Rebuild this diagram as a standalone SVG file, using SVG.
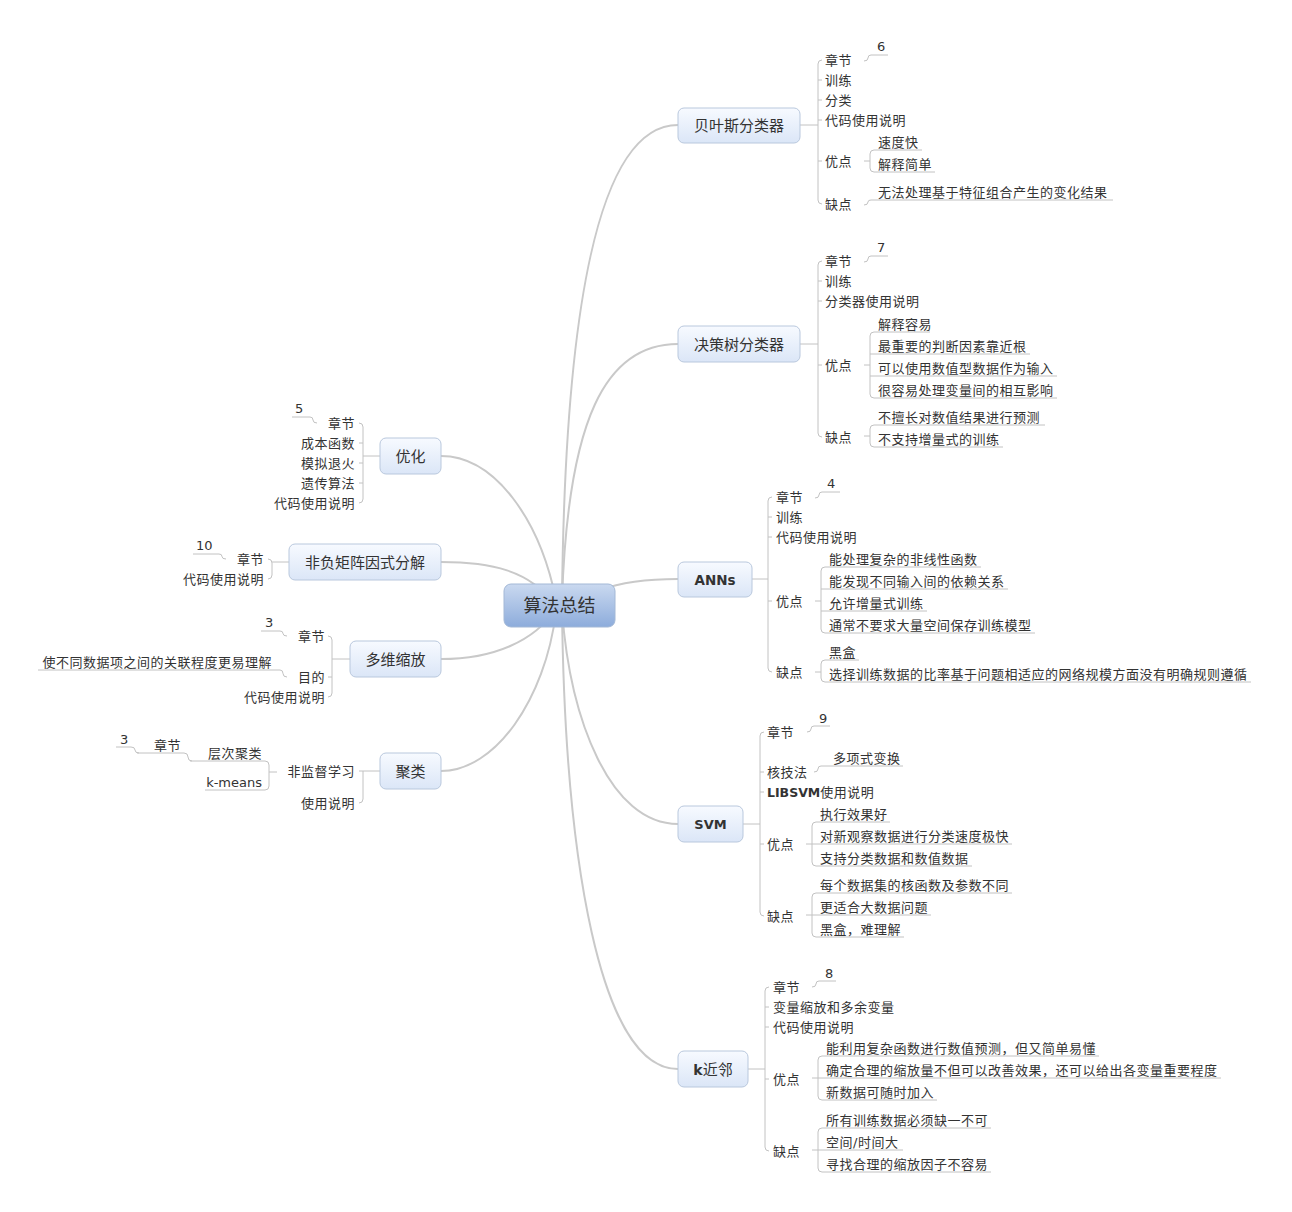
<svg xmlns="http://www.w3.org/2000/svg" width="1292" height="1212" viewBox="0 0 1292 1212">
<defs>
<linearGradient id="ng" x1="0" y1="0" x2="0" y2="1"><stop offset="0" stop-color="#f7faff"/><stop offset="1" stop-color="#dbe6f7"/></linearGradient>
<linearGradient id="cg" x1="0" y1="0" x2="0" y2="1"><stop offset="0" stop-color="#cad9f0"/><stop offset="1" stop-color="#8dacdb"/></linearGradient>
<style>
.nd{fill:url(#ng);stroke:#b9c8dd;stroke-width:1}
.ct{fill:url(#cg);stroke:#a3b8d6;stroke-width:1}
.mt{font-family:"DejaVu Sans","Noto Sans CJK SC",sans-serif;font-size:15px;fill:#333;text-anchor:middle}
.bt{font-family:"DejaVu Sans","Noto Sans CJK SC",sans-serif;font-size:13.5px;font-weight:bold;fill:#333;text-anchor:middle}
.t{font-family:"DejaVu Sans","Noto Sans CJK SC",sans-serif;font-size:13px;letter-spacing:0.5px;fill:#333}
.n{font-family:"DejaVu Sans",sans-serif;font-size:13px;fill:#333}
.e{text-anchor:end}
.mc{fill:none;stroke:#c9c9c9;stroke-width:2}
.sc{fill:none;stroke:#c2c2c2;stroke-width:1}
</style>
</defs>
<rect width="1292" height="1212" fill="#ffffff"/>
<g id="connectors">
<path class="mc" d="M678 125 C600 125 565 300 562 600"/>
<path class="mc" d="M678 344 C605 344 568 420 562 600"/>
<path class="mc" d="M678 579 Q630 579 600 590"/>
<path class="mc" d="M678 824 C610 824 570 720 562 610"/>
<path class="mc" d="M678 1069 C600 1069 565 860 562 610"/>
<path class="mc" d="M441 456 C495 456 540 520 556 600"/>
<path class="mc" d="M441 562 C490 562 530 570 555 605"/>
<path class="mc" d="M441 659 C495 659 535 640 555 610"/>
<path class="mc" d="M441 771 C495 771 545 700 556 612"/>
<!-- Bayes -->
<path class="sc" d="M800 125 H818 M822 60 Q818 60 818 64 V200 Q818 204 822 204 M818 80 H822 M818 100 H822 M818 120 H822 M818 161 H822"/>
<path class="sc" d="M864 61 Q868 61 868 58 Q868 55 871 55 H888"/>
<path class="sc" d="M864 161 H870 M922 150 H874 Q870 150 870 154 V168 Q870 172 874 172 H935"/>
<path class="sc" d="M864 205 Q868 205 868 202 Q868 200 871 200 H1113"/>
<!-- Decision tree -->
<path class="sc" d="M800 344 H818 M822 261 Q818 261 818 265 V433 Q818 437 822 437 M818 281 H822 M818 301 H822 M818 365 H822"/>
<path class="sc" d="M864 262 Q868 262 868 259 Q868 256 871 256 H888"/>
<path class="sc" d="M864 365 H870 M930 332 H874 Q870 332 870 336 V394 Q870 398 874 398 H1057 M870 354 H1030 M870 376 H1057"/>
<path class="sc" d="M864 436 H870 M1045 425 H874 Q870 425 870 429 V443 Q870 447 874 447 H1003"/>
<!-- ANNs -->
<path class="sc" d="M752 579 H768 M772 497 Q768 497 768 501 V668 Q768 672 772 672 M768 517 H772 M768 537 H772 M768 601 H772"/>
<path class="sc" d="M815 498 Q819 498 819 495 Q819 492 822 492 H840"/>
<path class="sc" d="M815 601 H821 M981 567 H825 Q821 567 821 571 V629 Q821 633 825 633 H1035 M821 589 H1008 M821 611 H927"/>
<path class="sc" d="M815 672 H821 M859 660 H825 Q821 660 821 664 V678 Q821 682 825 682 H1251"/>
<!-- SVM -->
<path class="sc" d="M743 824 H760 M764 732 Q760 732 760 736 V912 Q760 916 764 916 M760 772 H764 M760 792 H764 M760 844 H764"/>
<path class="sc" d="M807 732 Q811 732 811 729 Q811 726 814 726 H830"/>
<path class="sc" d="M814 772 Q818 772 818 769 Q818 766 821 766 H903"/>
<path class="sc" d="M806 844 H812 M890 822 H816 Q812 822 812 826 V862 Q812 866 816 866 H972 M812 844 H1012"/>
<path class="sc" d="M806 915 H812 M1012 893 H816 Q812 893 812 897 V933 Q812 937 816 937 H904 M812 915 H931"/>
<!-- kNN -->
<path class="sc" d="M748 1069 H765 M769 987 Q765 987 765 991 V1147 Q765 1151 769 1151 M765 1007 H769 M765 1027 H769 M765 1079 H769"/>
<path class="sc" d="M812 987 Q816 987 816 984 Q816 981 819 981 H836"/>
<path class="sc" d="M812 1078 H818 M1099 1056 H822 Q818 1056 818 1060 V1096 Q818 1100 822 1100 H937 M818 1078 H1221"/>
<path class="sc" d="M812 1150 H818 M991 1128 H822 Q818 1128 818 1132 V1168 Q818 1172 822 1172 H991 M818 1150 H903"/>
<!-- 优化 -->
<path class="sc" d="M380 456 H363 M359 423 Q363 423 363 427 V499 Q363 503 359 503 M363 443 H359 M363 463 H359 M363 483 H359"/>
<path class="sc" d="M317 423 Q313 423 313 420 Q313 417 310 417 H292"/>
<!-- 非负矩阵因式分解 -->
<path class="sc" d="M289 562 H272 M268 559 Q272 559 272 563 V575 Q272 579 268 579"/>
<path class="sc" d="M226 559 Q222 559 222 556.5 Q222 554 219 554 H193"/>
<!-- 多维缩放 -->
<path class="sc" d="M350 659 H332 M328 636 Q332 636 332 640 V693 Q332 697 328 697 M332 677 H328"/>
<path class="sc" d="M287 636 Q283 636 283 633.5 Q283 631 280 631 H261"/>
<path class="sc" d="M287 677 Q283 677 283 673.5 Q283 670 280 670 H38"/>
<!-- 聚类 -->
<path class="sc" d="M380 771 H359 M363 771 V799 Q363 803 359 803"/>
<path class="sc" d="M277 772 H269 M190 761 H265 Q269 761 269 765 V786 Q269 790 265 790 H205"/>
<path class="sc" d="M192 761 Q188 761 188 757 Q188 753 184 753 H137"/>
<path class="sc" d="M139 753 Q135 753 135 750 Q135 747 131 747 H116"/>
</g>
<g id="root">
<rect class="ct" x="504" y="584" width="111" height="43" rx="7"/>
<text class="mt" x="559.5" y="612" style="font-size:18px">算法总结</text>
</g>
<g id="bayes">
<rect class="nd" x="678" y="108" width="122" height="35" rx="6"/>
<text class="mt" x="739" y="131">贝叶斯分类器</text>
<text class="t" x="825" y="65">章节</text>
<text class="t" x="825" y="85">训练</text>
<text class="t" x="825" y="105">分类</text>
<text class="t" x="825" y="125">代码使用说明</text>
<text class="t" x="825" y="166">优点</text>
<text class="t" x="825" y="209">缺点</text>
<text class="n" x="877" y="51">6</text>
<text class="t" x="878" y="147">速度快</text>
<text class="t" x="878" y="169">解释简单</text>
<text class="t" x="878" y="197">无法处理基于特征组合产生的变化结果</text>
</g>
<g id="decision-tree">
<rect class="nd" x="678" y="326" width="122" height="36" rx="6"/>
<text class="mt" x="739" y="349.5">决策树分类器</text>
<text class="t" x="825" y="266">章节</text>
<text class="t" x="825" y="286">训练</text>
<text class="t" x="825" y="306">分类器使用说明</text>
<text class="t" x="825" y="370">优点</text>
<text class="t" x="825" y="442">缺点</text>
<text class="n" x="877" y="252">7</text>
<text class="t" x="878" y="329">解释容易</text>
<text class="t" x="878" y="351">最重要的判断因素靠近根</text>
<text class="t" x="878" y="373">可以使用数值型数据作为输入</text>
<text class="t" x="878" y="395">很容易处理变量间的相互影响</text>
<text class="t" x="878" y="422">不擅长对数值结果进行预测</text>
<text class="t" x="878" y="444">不支持增量式的训练</text>
</g>
<g id="anns">
<rect class="nd" x="678" y="562" width="74" height="35" rx="6"/>
<text class="bt" x="715" y="584.5">ANNs</text>
<text class="t" x="776" y="502">章节</text>
<text class="t" x="776" y="522">训练</text>
<text class="t" x="776" y="542">代码使用说明</text>
<text class="t" x="776" y="606">优点</text>
<text class="t" x="776" y="677">缺点</text>
<text class="n" x="827" y="488">4</text>
<text class="t" x="829" y="564">能处理复杂的非线性函数</text>
<text class="t" x="829" y="586">能发现不同输入间的依赖关系</text>
<text class="t" x="829" y="608">允许增量式训练</text>
<text class="t" x="829" y="630">通常不要求大量空间保存训练模型</text>
<text class="t" x="829" y="657">黑盒</text>
<text class="t" x="829" y="679">选择训练数据的比率基于问题相适应的网络规模方面没有明确规则遵循</text>
</g>
<g id="svm">
<rect class="nd" x="678" y="806" width="65" height="36" rx="6"/>
<text class="bt" x="710.5" y="829" style="font-size:13px">SVM</text>
<text class="t" x="767" y="737">章节</text>
<text class="t" x="767" y="777">核技法</text>
<text class="t" x="767" y="797"><tspan style="font-weight:bold;font-size:12.5px;letter-spacing:0">LIBSVM</tspan>使用说明</text>
<text class="t" x="767" y="849">优点</text>
<text class="t" x="767" y="921">缺点</text>
<text class="n" x="819" y="723">9</text>
<text class="t" x="833" y="763">多项式变换</text>
<text class="t" x="820" y="819">执行效果好</text>
<text class="t" x="820" y="841">对新观察数据进行分类速度极快</text>
<text class="t" x="820" y="863">支持分类数据和数值数据</text>
<text class="t" x="820" y="890">每个数据集的核函数及参数不同</text>
<text class="t" x="820" y="912">更适合大数据问题</text>
<text class="t" x="820" y="934">黑盒，难理解</text>
</g>
<g id="knn">
<rect class="nd" x="678" y="1051" width="70" height="36" rx="6"/>
<text class="mt" x="713" y="1074.5"><tspan style="font-weight:bold;font-size:14px">k</tspan>近邻</text>
<text class="t" x="773" y="992">章节</text>
<text class="t" x="773" y="1012">变量缩放和多余变量</text>
<text class="t" x="773" y="1032">代码使用说明</text>
<text class="t" x="773" y="1084">优点</text>
<text class="t" x="773" y="1156">缺点</text>
<text class="n" x="825" y="978">8</text>
<text class="t" x="826" y="1053">能利用复杂函数进行数值预测，但又简单易懂</text>
<text class="t" x="826" y="1075">确定合理的缩放量不但可以改善效果，还可以给出各变量重要程度</text>
<text class="t" x="826" y="1097">新数据可随时加入</text>
<text class="t" x="826" y="1125">所有训练数据必须缺一不可</text>
<text class="t" x="826" y="1147">空间/时间大</text>
<text class="t" x="826" y="1169">寻找合理的缩放因子不容易</text>
</g>
<g id="optimization">
<rect class="nd" x="380" y="438" width="61" height="36" rx="6"/>
<text class="mt" x="410.5" y="461.5">优化</text>
<text class="t e" x="355" y="428">章节</text>
<text class="t e" x="355" y="448">成本函数</text>
<text class="t e" x="355" y="468">模拟退火</text>
<text class="t e" x="355" y="488">遗传算法</text>
<text class="t e" x="355" y="508">代码使用说明</text>
<text class="n" x="295" y="413">5</text>
</g>
<g id="nmf">
<rect class="nd" x="289" y="544" width="152" height="36" rx="6"/>
<text class="mt" x="365" y="567.5">非负矩阵因式分解</text>
<text class="t e" x="264" y="564">章节</text>
<text class="t e" x="264" y="584">代码使用说明</text>
<text class="n" x="196" y="550">10</text>
</g>
<g id="mds">
<rect class="nd" x="350" y="641" width="91" height="36" rx="6"/>
<text class="mt" x="395.5" y="664.5">多维缩放</text>
<text class="t e" x="325" y="641">章节</text>
<text class="t e" x="325" y="682">目的</text>
<text class="t e" x="325" y="702">代码使用说明</text>
<text class="n" x="265" y="627">3</text>
<text class="t e" x="272" y="667">使不同数据项之间的关联程度更易理解</text>
</g>
<g id="clustering">
<rect class="nd" x="380" y="753" width="61" height="36" rx="6"/>
<text class="mt" x="410.5" y="776.5">聚类</text>
<text class="t e" x="355" y="776">非监督学习</text>
<text class="t e" x="355" y="808">使用说明</text>
<text class="t e" x="262" y="758">层次聚类</text>
<text class="n e" x="262" y="787">k-means</text>
<text class="t e" x="181" y="750">章节</text>
<text class="n" x="120" y="744">3</text>
</g>
</svg>
